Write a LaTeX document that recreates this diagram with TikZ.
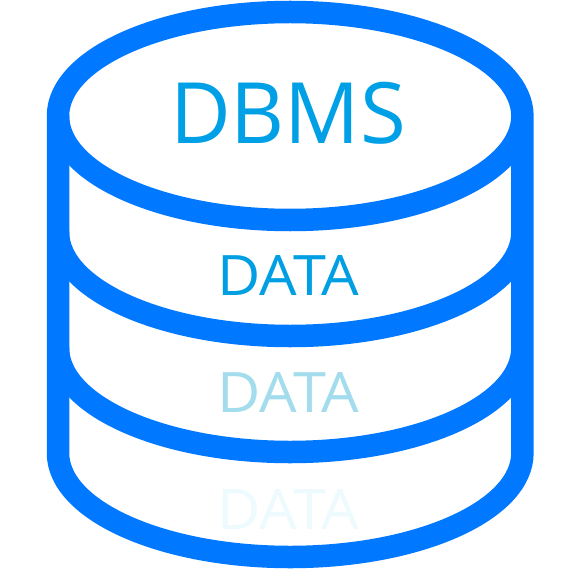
\documentclass[tikz,border=0pt]{standalone}
\usepackage{fontspec}
\setmainfont{Open Sans}
\definecolor{stroke}{HTML}{0078FF}
\definecolor{t1}{HTML}{00A0E6}
\definecolor{t2}{HTML}{009FE3}
\definecolor{t3}{HTML}{A3DCEC}
\definecolor{t4}{HTML}{EDFAFE}
\tikzset{pen/.style={draw=stroke,line width=22.5bp,line cap=butt,line join=round},
lab/.style={inner sep=0pt,anchor=base,transform shape},
big/.style={lab,font=\fontsize{85}{85}\selectfont,xscale=0.985},
small/.style={lab,font=\fontsize{56}{56}\selectfont,xscale=1.065}}
\begin{document}
\begin{tikzpicture}[x=1bp,y=-1bp]
\useasboundingbox (0,0) rectangle (585,585);
\fill[white] (0,0) rectangle (585,585);
\begin{scope}
\clip (58,0) rectangle (522.4,585);
\draw[pen] (58,116) arc[start angle=180,end angle=0,x radius=232.2,y radius=104];
\draw[pen] (58,232) arc[start angle=180,end angle=0,x radius=232.2,y radius=104];
\draw[pen] (58,348) arc[start angle=180,end angle=0,x radius=232.2,y radius=104];
\end{scope}
\draw[pen] (58,116) -- (58,453) arc[start angle=180,end angle=0,x radius=232.2,y radius=104] -- (522.4,116) arc[start angle=0,end angle=-180,x radius=232.2,y radius=104] -- cycle;
\node[big,text=t1] (dbms) at (288,144) {DBMS};
\node[small,text=t2] (d1) at (288.5,295) {DATA};
\node[small,text=t3] (d2) at (288.5,412.5) {DATA};
\node[small,text=t4] (d3) at (288.5,529) {DATA};
\end{tikzpicture}
\end{document}
